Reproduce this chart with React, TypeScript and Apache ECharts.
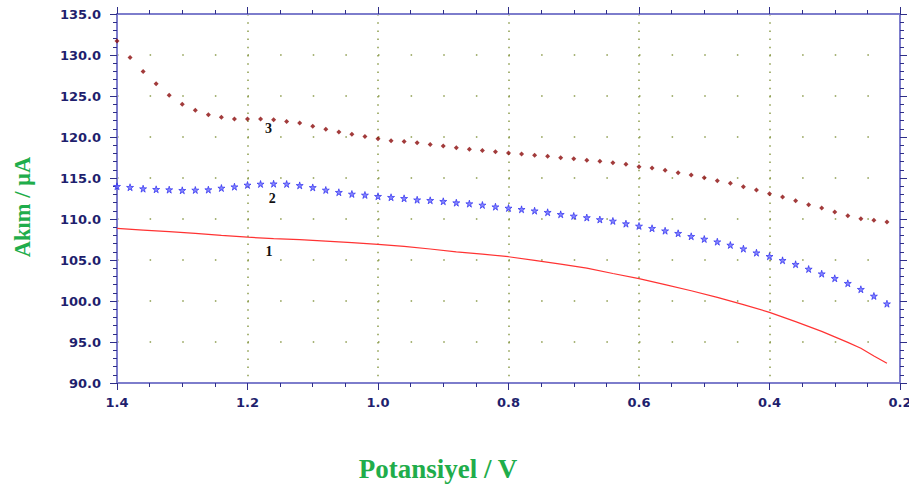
import React, { useEffect, useRef } from "react";
import * as echarts from "echarts";

const scanPotentials = [
  1.4, 1.38, 1.36, 1.34, 1.32, 1.3, 1.28, 1.26, 1.24, 1.22, 1.2, 1.18, 1.16, 1.14, 1.12, 1.1,
  1.08, 1.06, 1.04, 1.02, 1.0, 0.98, 0.96, 0.94, 0.92, 0.9, 0.88, 0.86, 0.84, 0.82, 0.8, 0.78,
  0.76, 0.74, 0.72, 0.7, 0.68, 0.66, 0.64, 0.62, 0.6, 0.58, 0.56, 0.54, 0.52, 0.5, 0.48, 0.46,
  0.44, 0.42, 0.4, 0.38, 0.36, 0.34, 0.32, 0.3, 0.28, 0.26, 0.24, 0.22,
];

const curve3 = [
  131.7, 129.7, 128.0, 126.5, 125.1, 124.0, 123.25, 122.7, 122.4, 122.2, 122.2, 122.2, 122.1,
  121.9, 121.7, 121.3, 120.95, 120.6, 120.35, 120.05, 119.8, 119.55, 119.45, 119.3, 119.1, 118.9,
  118.7, 118.5, 118.35, 118.2, 118.05, 117.93, 117.77, 117.65, 117.48, 117.35, 117.15, 117.03,
  116.87, 116.67, 116.38, 116.22, 115.93, 115.65, 115.37, 115.04, 114.67, 114.35, 113.94, 113.54,
  113.09, 112.68, 112.23, 111.74, 111.34, 110.85, 110.4, 110.04, 109.84, 109.63,
];

const curve2 = [
  113.99, 113.87, 113.7, 113.62, 113.58, 113.5, 113.54, 113.58, 113.78, 113.94, 114.15, 114.27,
  114.3, 114.27, 114.1, 113.85, 113.54, 113.26, 113.05, 112.93, 112.77, 112.65, 112.52, 112.35,
  112.28, 112.16, 111.99, 111.87, 111.71, 111.5, 111.34, 111.18, 111.01, 110.82, 110.57, 110.37,
  110.18, 109.94, 109.76, 109.43, 109.15, 108.87, 108.57, 108.26, 107.89, 107.56, 107.23, 106.83,
  106.38, 105.89, 105.45, 104.96, 104.48, 103.9, 103.33, 102.77, 102.16, 101.43, 100.61, 99.67,
];

const linePotentials = [
  1.4, 1.36, 1.32, 1.28, 1.24, 1.2, 1.16, 1.12, 1.08, 1.04, 1.0, 0.96, 0.92, 0.88, 0.84, 0.8,
  0.76, 0.72, 0.68, 0.64, 0.6, 0.56, 0.52, 0.48, 0.44, 0.4, 0.36, 0.32, 0.28, 0.26, 0.24, 0.22,
];
const curve1 = [
  108.86, 108.65, 108.45, 108.25, 108.0, 107.78, 107.6, 107.48, 107.3, 107.12, 106.91, 106.65,
  106.34, 106.0, 105.72, 105.4, 104.95, 104.5, 104.0, 103.35, 102.72, 102.0, 101.25, 100.45,
  99.55, 98.62, 97.48, 96.3, 94.95, 94.23, 93.3, 92.4,
];

const curveLabels = ["1", "2", "3"];
const labelCoords: [number, number][] = [
  [1.167, 105.98],
  [1.162, 112.56],
  [1.168, 121.04],
];

const xTitle = "Potansiyel / V";
const yTitle = "Akım / µA";

const STAR =
  "path://M50,0 L61,35 L98,35 L68,57 L79,91 L50,70 L21,91 L32,57 L2,35 L39,35 Z";

export default function App() {
  const ref = useRef<HTMLDivElement>(null);
  useEffect(() => {
    document.body.style.margin = "0";
    const chart = echarts.init(ref.current!, null, { renderer: "svg" });
    const axisLineColor = "#7d7dcc";
    const tickColor = "#2e2e88";
    const labelColor = "#1f1f6e";
    const gridColor = "#8c9c4c";
    const titleColor = "#1fad4b";
    const baseX = {
      type: "value",
      min: 0.2,
      max: 1.4,
      interval: 0.2,
      inverse: true,
      axisLine: { show: true, onZero: false, lineStyle: { color: axisLineColor, width: 2 } },
      axisTick: { show: true, inside: false, length: 7, lineStyle: { color: tickColor, width: 1 } },
      minorTick: { show: true, splitNumber: 4, length: 4, lineStyle: { color: tickColor, width: 1 } },
    };
    const baseY = {
      type: "value",
      min: 90,
      max: 135,
      interval: 5,
      axisLine: { show: true, onZero: false, lineStyle: { color: axisLineColor, width: 2 } },
      axisTick: { show: true, inside: false, length: 7, lineStyle: { color: tickColor, width: 1 } },
      minorTick: { show: true, splitNumber: 5, length: 4, lineStyle: { color: tickColor, width: 1 } },
    };
    const markFor = (i: number) => ({
      symbol: "circle",
      symbolSize: 1,
      itemStyle: { color: "rgba(0,0,0,0)" },
      label: {
        show: true,
        position: "inside",
        formatter: curveLabels[i],
        color: "#111",
        fontFamily: "Liberation Serif",
        fontWeight: "bold",
        fontSize: 14,
      },
      data: [{ coord: labelCoords[i] }],
    });
    chart.setOption({
      animation: false,
      backgroundColor: "#ffffff",
      grid: {
        left: 117,
        right: 9,
        top: 14,
        bottom: 101,
        containLabel: false,
        outerBoundsMode: "none",
      },
      graphic: [
        {
          type: "text",
          x: 438,
          y: 469,
          style: {
            text: xTitle,
            fill: titleColor,
            font: "bold 27px 'Liberation Serif'",
            textAlign: "center",
            textVerticalAlign: "middle",
          },
        },
        {
          type: "text",
          x: 22,
          y: 207,
          rotation: Math.PI / 2,
          style: {
            text: yTitle,
            fill: titleColor,
            font: "bold 22.5px 'Liberation Serif'",
            textAlign: "center",
            textVerticalAlign: "middle",
          },
        },
      ],
      xAxis: [
        {
          ...baseX,
          position: "bottom",
          axisLabel: {
            show: true,
            margin: 13,
            color: labelColor,
            fontFamily: "DejaVu Sans",
            fontWeight: "bold",
            fontSize: 13,
            formatter: (v: number) => v.toFixed(1),
          },
          splitLine: {
            show: true,
            lineStyle: { color: gridColor, width: 1.5, type: [1.5, 6.7] },
          },
        },
        {
          ...baseX,
          position: "top",
          axisLabel: { show: false },
          splitLine: { show: false },
        },
      ],
      yAxis: [
        {
          ...baseY,
          position: "left",
          axisLabel: {
            show: true,
            margin: 16,
            color: labelColor,
            fontFamily: "DejaVu Sans",
            fontWeight: "bold",
            fontSize: 13,
            formatter: (v: number) => v.toFixed(1),
          },
          splitLine: {
            show: true,
            lineStyle: { color: gridColor, width: 1.5, type: [1.5, 31.125] },
          },
        },
        {
          ...baseY,
          position: "right",
          axisLabel: { show: false },
          splitLine: { show: false },
        },
      ],
      series: [
        {
          name: "1",
          type: "line",
          data: linePotentials.map((x, i) => [x, curve1[i]]),
          showSymbol: false,
          symbol: "none",
          lineStyle: { color: "#ff3333", width: 1.2 },
          markPoint: markFor(0),
          z: 3,
        },
        {
          name: "2",
          type: "scatter",
          data: scanPotentials.map((x, i) => [x, curve2[i]]),
          symbol: STAR,
          symbolSize: 7,
          itemStyle: { color: "#6666ff", borderColor: "#1f1fee", borderWidth: 0.8 },
          markPoint: markFor(1),
          z: 4,
        },
        {
          name: "3",
          type: "scatter",
          data: scanPotentials.map((x, i) => [x, curve3[i]]),
          symbol: "diamond",
          symbolSize: 5,
          itemStyle: { color: "#8b0a0a" },
          markPoint: markFor(2),
          z: 4,
        },
      ],
    });
    return () => chart.dispose();
  }, []);
  return <div ref={ref} style={{ width: 909, height: 484 }} />;
}
